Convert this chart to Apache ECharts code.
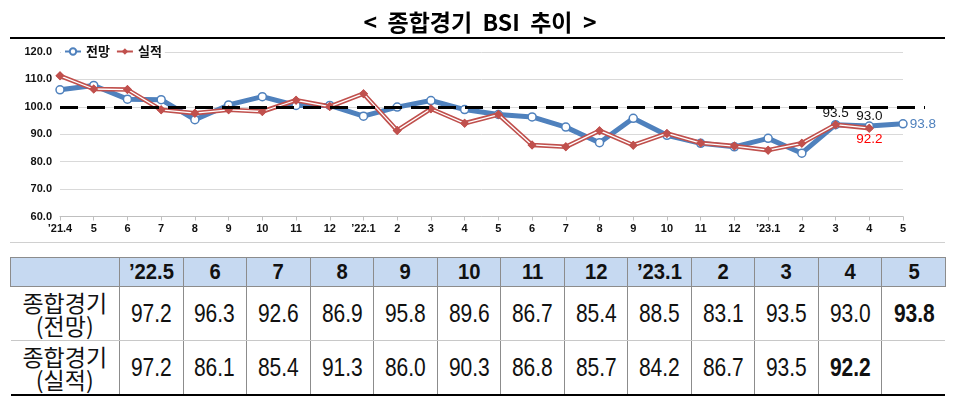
<!DOCTYPE html>
<html><head><meta charset="utf-8">
<script src="https://cdn.jsdelivr.net/npm/echarts@6/dist/echarts.min.js"></script>
<style>
html,body{margin:0;padding:0;background:#fff;width:960px;height:404px;overflow:hidden;position:relative;}
#chart{position:absolute;left:0;top:0;width:960px;height:250px;}
#topline{position:absolute;left:10px;top:242px;width:935px;height:1px;background:#d0d0d0;}
table{position:absolute;left:10px;top:257px;width:935px;border-collapse:collapse;table-layout:fixed;font-family:'Liberation Sans',Arial,sans-serif;color:#111;}
th,td{padding:0;text-align:center;vertical-align:middle;}
thead th{background:#c6d9f1;height:28px;font-weight:bold;font-size:22px;border:1px solid #8c8c8c;}
tbody td{height:53px;font-size:25px;border-left:1px solid #8c8c8c;border-bottom:1px solid #c8c8c8;}
tbody td span{display:inline-block;transform:scaleX(0.84);}
thead th span{display:inline-block;transform:scaleX(0.92);}
tbody td.rl{font-family:'Noto Sans CJK KR',sans-serif;font-size:23px;line-height:23px;border-left:none;}
tbody td.rl span{transform:none;}
tbody tr:last-child td{border-bottom:2px solid #000;}
td.b{font-weight:bold;}
</style></head>
<body>
<div id="chart"></div>
<div id="topline"></div>
<table id="tbl"><colgroup id="cg"></colgroup><thead><tr id="hr"></tr></thead><tbody id="tb"></tbody></table>
<script>
const categories = ["’21.4","5","6","7","8","9","10","11","12","’22.1","2","3","4","5","6","7","8","9","10","11","12","’23.1","2","3","4","5"];
const forecast = [106.2,107.8,102.8,102.6,95.3,100.7,103.7,100.5,100.5,96.6,99.9,102.3,99.0,97.2,96.3,92.6,86.9,95.8,89.6,86.7,85.4,88.5,83.1,93.5,93.0,93.8];
const actual = [111.3,106.5,106.3,98.9,97.7,98.9,98.3,102.4,100.1,104.8,91.4,99.3,94.0,97.2,86.1,85.4,91.3,86.0,90.3,86.8,85.7,84.2,86.7,93.5,92.2,null];
const yTicks = [60,70,80,90,100,110,120];
const tableHeaders = ["’22.5","6","7","8","9","10","11","12","’23.1","2","3","4","5"];
const rowLabels = ["종합경기<br>(전망)","종합경기<br>(실적)"];
const tableStart = 13;
const refValue = 100;

const BLUE = '#4f81bd', RED = '#c0504d';
const NF = "'Liberation Sans',Arial,sans-serif";
const last = categories.length - 1;

const blueData = forecast.map((v,i)=>{
  if(i===last-2) return {value:v,label:{show:true,position:'top',distance:0,color:'#111',fontSize:13.5,fontFamily:NF,formatter:v.toFixed(1)}};
  if(i===last-1) return {value:v,label:{show:true,position:'top',distance:-2,color:'#111',fontSize:13.5,fontFamily:NF,formatter:v.toFixed(1)}};
  if(i===last) return {value:v,label:{show:true,position:'right',distance:2,color:'#4f81bd',fontSize:13.5,fontFamily:NF,formatter:v.toFixed(1)}};
  return v;
});
const redData = actual.map((v,i)=>{
  if(i===last-1) return {value:v,label:{show:true,position:'bottom',distance:0,color:'#ff0000',fontSize:13.5,fontFamily:NF,formatter:v.toFixed(1)}};
  return v;
});

const chart = echarts.init(document.getElementById('chart'), null, {renderer:'canvas'});
chart.setOption({
  animation:false,
  title:{text:'<  종합경기  BSI  추이  >',left:'center',top:6,textStyle:{fontFamily:'Noto Sans CJK KR',fontWeight:'bold',fontSize:23,color:'#000'}},
  graphic:[{type:'line',shape:{x1:10,y1:38,x2:945,y2:38},style:{stroke:'#000',lineWidth:2},z:10}],
  legend:{data:['전망','실적'],left:61,top:45,itemWidth:16,itemHeight:8,itemGap:6,padding:[0,3],backgroundColor:'#fff',
    textStyle:{fontFamily:'Noto Sans CJK KR',fontWeight:'bold',fontSize:13,color:'#111'},z:20},
  grid:[{left:60,right:57,top:52,height:164.5},{left:60,right:35,top:52,height:164.5}],
  xAxis:[{type:'category',data:categories,boundaryGap:false,gridIndex:0,
    axisLine:{lineStyle:{color:'#bfbfbf'}},axisTick:{show:true,length:4,lineStyle:{color:'#bfbfbf'}},
    axisLabel:{fontFamily:NF,fontWeight:'bold',fontSize:11,color:'#111',margin:7,interval:0}},
    {type:'value',gridIndex:1,min:0,max:1,show:false}],
  yAxis:[{type:'value',min:yTicks[0],max:yTicks[yTicks.length-1],interval:10,gridIndex:0,
    axisLine:{show:false},axisTick:{show:false},
    splitLine:{lineStyle:{color:'#d9d9d9'}},
    axisLabel:{fontFamily:NF,fontWeight:'bold',fontSize:11,color:'#111',margin:8,formatter:v=>v.toFixed(1)}},
    {type:'value',min:yTicks[0],max:yTicks[yTicks.length-1],gridIndex:1,show:false,splitLine:{show:false}}],
  series:[
    {name:'전망',type:'line',data:blueData,z:2,lineStyle:{color:BLUE,width:5},symbol:'circle',symbolSize:8,
      itemStyle:{color:'#fff',borderColor:BLUE,borderWidth:1.5},emphasis:{disabled:true}},
    {name:'실적',type:'line',data:redData,z:3,lineStyle:{color:RED,width:4.5},symbol:'diamond',symbolSize:9,
      itemStyle:{color:RED,borderColor:RED,borderWidth:0},emphasis:{disabled:true}},
    {name:'실적내부',type:'line',data:actual,z:4,lineStyle:{color:'#fff',width:1.3},symbol:'diamond',symbolSize:9,
      itemStyle:{color:RED,borderWidth:0},emphasis:{disabled:true},silent:true},
    {name:'기준',type:'line',xAxisIndex:1,yAxisIndex:1,data:[],z:6,silent:true,
      markLine:{silent:true,symbol:'none',label:{show:false},lineStyle:{color:'#000',width:3,type:[18,9]},data:[{yAxis:refValue}]}}
  ]
});

// Table
const cg = document.getElementById('cg');
let c0 = document.createElement('col'); c0.style.width='109px'; cg.appendChild(c0);
tableHeaders.forEach(()=>{const c=document.createElement('col');c.style.width=(826/tableHeaders.length)+'px';cg.appendChild(c);});
const hr = document.getElementById('hr');
hr.appendChild(document.createElement('th'));
tableHeaders.forEach(h=>{const th=document.createElement('th');const s=document.createElement('span');s.textContent=h;th.appendChild(s);hr.appendChild(th);});
const tb = document.getElementById('tb');
[forecast, actual].forEach((arr,ri)=>{
  const tr=document.createElement('tr');
  const l=document.createElement('td'); l.className='rl'; l.innerHTML='<span>'+rowLabels[ri]+'</span>'; tr.appendChild(l);
  const vals = arr.slice(tableStart);
  let lastIdx = -1; vals.forEach((v,i)=>{ if(v!==null) lastIdx=i; });
  vals.forEach((v,i)=>{const td=document.createElement('td'); const s=document.createElement('span'); s.textContent = v===null?'':v.toFixed(1); td.appendChild(s); if(i===lastIdx) td.className='b'; tr.appendChild(td);});
  tb.appendChild(tr);
});
</script>
</body></html>
